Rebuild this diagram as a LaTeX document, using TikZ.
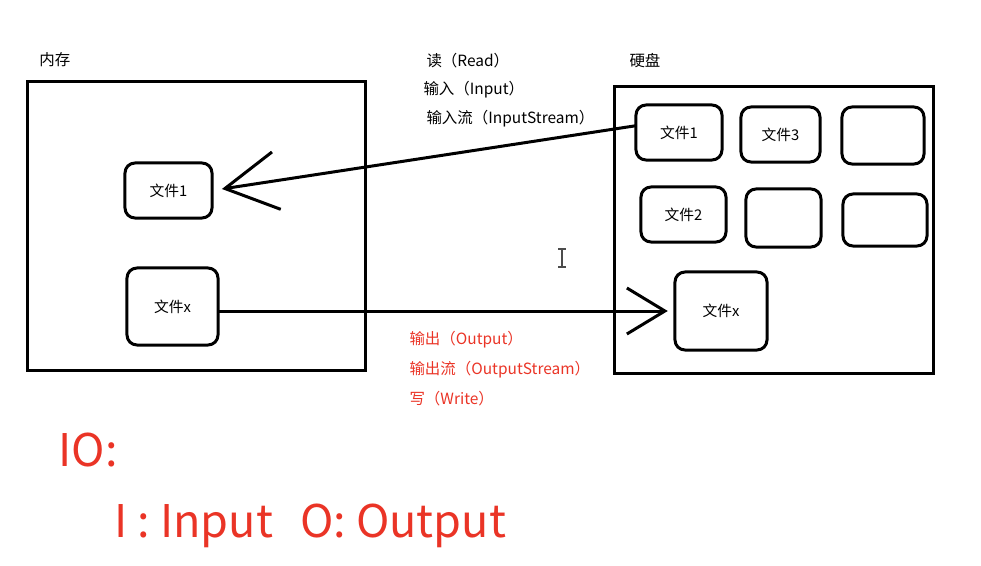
\documentclass[tikz,border=0pt]{standalone}
\usepackage{fontspec}
\setmainfont{Noto Sans CJK SC}
\usetikzlibrary{arrows.meta}
\definecolor{iored}{RGB}{234,52,38}
\begin{document}
\begin{tikzpicture}[x=0.025cm,y=-0.025cm,line width=0.075cm,
  bigbox/.style={draw,inner sep=0pt,outer sep=0pt},
  filebox/.style={draw,rounded corners=0.25cm,inner sep=0pt,outer sep=0pt,font=\fontsize{10.5}{12}\selectfont},
  lbl/.style={anchor=west,inner sep=0pt,font=\fontsize{11}{13}\selectfont},
  redlbl/.style={lbl,text=iored},
  big/.style={anchor=base west,inner sep=0pt,text=iored,font=\fontsize{32}{38}\selectfont},
  barb/.style={-{Straight Barb[length=1.3cm,width=1.45cm]}}]
\useasboundingbox (0,0) rectangle (981,566);
% memory side
\node[lbl] (memlbl) at (38,60) {内存};
\node[bigbox,minimum width=8.425cm,minimum height=7.2cm] (mem) at (196.5,226) {};
\node[filebox,minimum width=2.175cm,minimum height=1.375cm] (m1) at (168.5,190.5) {文件1};
\node[filebox,minimum width=2.275cm,minimum height=1.925cm] (mx) at (172.5,306.5) {文件x};
% disk side
\node[lbl] (disklbl) at (628,61) {硬盘};
\node[bigbox,minimum width=7.95cm,minimum height=7.15cm] (disk) at (774,230) {};
\node[filebox,minimum width=2.15cm,minimum height=1.375cm] (d1) at (679,132.5) {文件1};
\node[filebox,minimum width=1.975cm,minimum height=1.375cm] (d3) at (780.5,134.5) {文件3};
\node[filebox,minimum width=2.05cm,minimum height=1.425cm] (d4) at (883,135.5) {};
\node[filebox,minimum width=2.125cm,minimum height=1.375cm] (d2) at (683.5,214.5) {文件2};
\node[filebox,minimum width=1.875cm,minimum height=1.45cm] (d5) at (783.5,218) {};
\node[filebox,minimum width=2.1cm,minimum height=1.3cm] (d6) at (885,220) {};
\node[filebox,minimum width=2.3cm,minimum height=1.95cm] (dx) at (721,311) {文件x};
% read / write
\draw[barb,shorten >=0.25cm] ([yshift=0.17cm]d1.west) -- (m1.east);
\draw[-{Straight Barb[length=0.95cm,width=1.15cm]},shorten >=0.18cm] (mx.east |- dx.west) -- (dx.west);
\node[lbl] (rd) at (425,61) {读（Read）};
\node[lbl] (in) at (422,90) {输入（Input）};
\node[lbl] (ins) at (425,119) {输入流（InputStream）};
\node[redlbl] (out) at (408,340) {输出（Output）};
\node[redlbl] (outs) at (408,370) {输出流（OutputStream）};
\node[redlbl] (wr) at (408,399) {写（Write）};
% cursor
\draw[line width=0.03cm,black!70] (562,249) -- (562,267) (558,249) -- (566,249) (558,267) -- (566,267);
\node[big] (io) at (57,466) {IO:};
\node[big] (iodef) at (113,537) {I : Input\hspace{0.6em}O: Output};
\end{tikzpicture}
\end{document}
